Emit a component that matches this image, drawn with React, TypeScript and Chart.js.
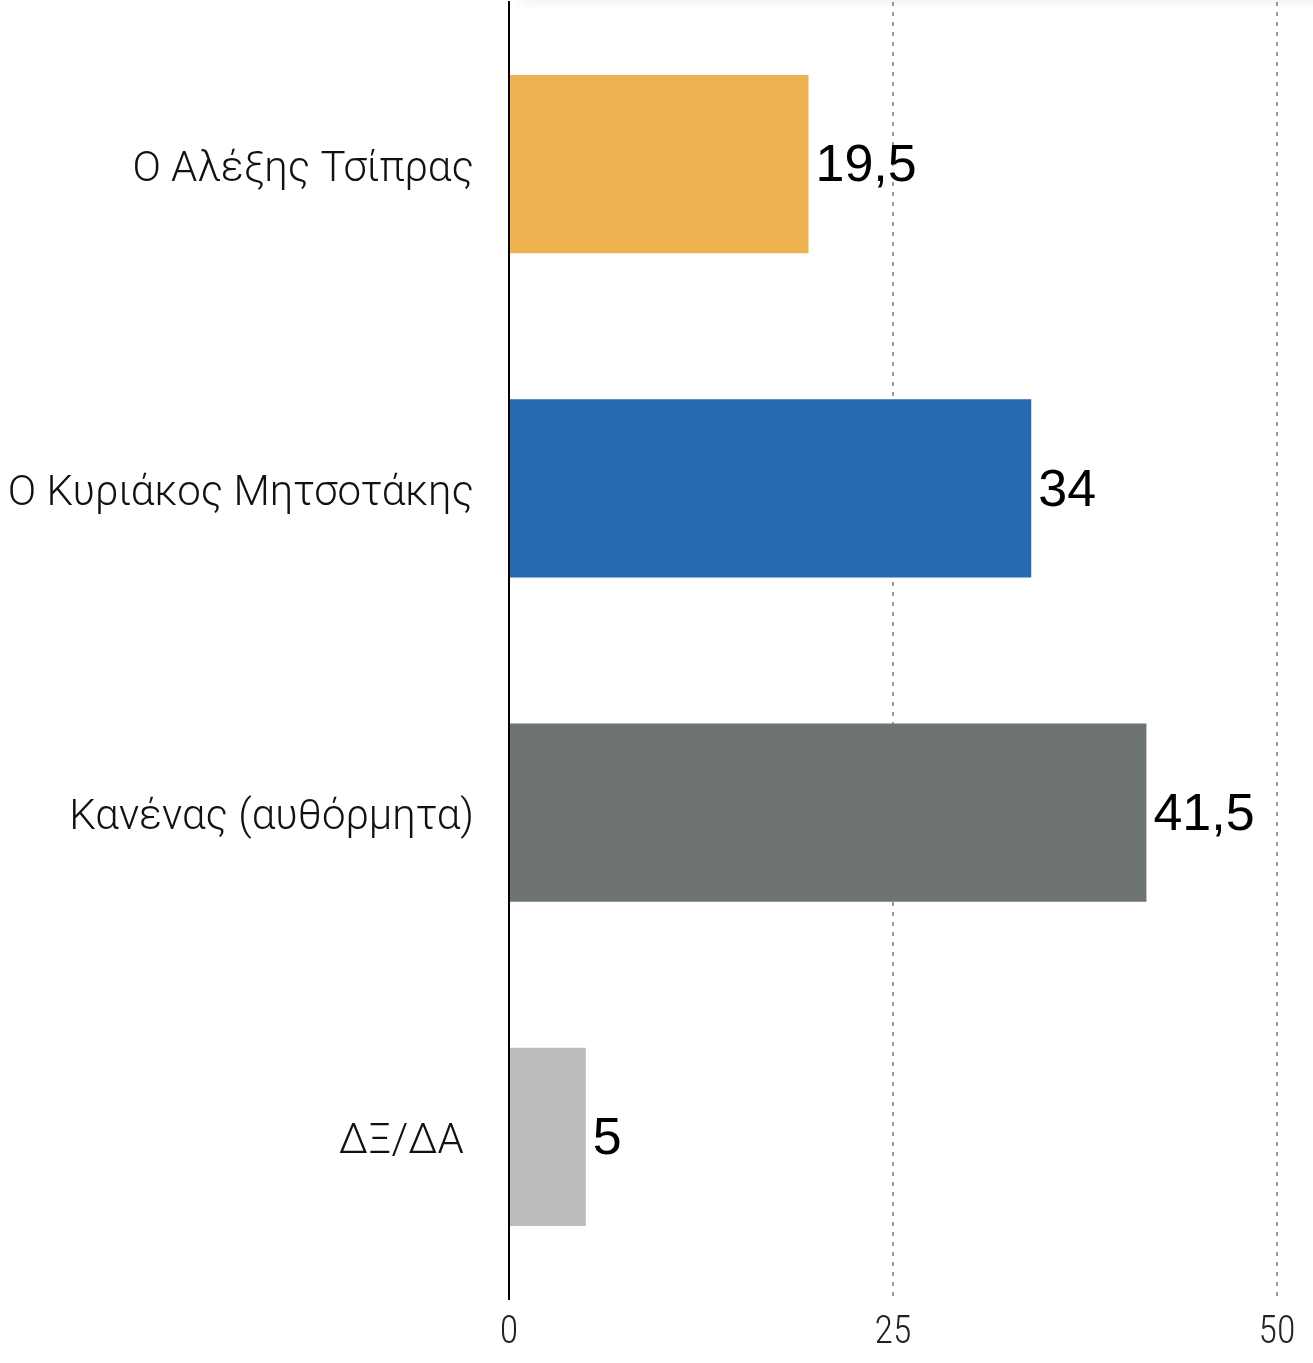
import React, { useEffect, useRef } from "react";
import { Chart, registerables } from "chart.js";

Chart.register(...registerables);

const categories = [
  "Ο Αλέξης Τσίπρας",
  "Ο Κυριάκος Μητσοτάκης",
  "Κανένας (αυθόρμητα)",
  "ΔΞ/ΔΑ ",
];
const values = [19.5, 34, 41.5, 5];
const barColors = ["#EFB250", "#2569B1", "#6E7472", "#BABDBB"];
const xTicks = [0, 25, 50];

const valueLabels = {
  id: "valueLabels",
  afterDatasetsDraw(chart: any) {
    const ctx = chart.ctx;
    const meta = chart.getDatasetMeta(0);
    ctx.save();
    ctx.font = '52px "Liberation Sans", Arial, sans-serif';
    ctx.fillStyle = "#000";
    ctx.textAlign = "left";
    ctx.textBaseline = "middle";
    meta.data.forEach((bar: any, i: number) => {
      const txt = String(values[i]).replace(".", ",");
      ctx.fillText(txt, bar.x + 7, bar.y + 3);
    });
    ctx.restore();
  },
};

export default function App() {
  const ref = useRef<HTMLCanvasElement | null>(null);

  useEffect(() => {
    document.body.style.margin = "0";
    const canvas = ref.current!;
    const chart = new Chart(canvas, {
      type: "bar",
      data: {
        labels: categories,
        datasets: [
          {
            data: values,
            backgroundColor: barColors,
            borderWidth: 0,
            categoryPercentage: 1,
            barPercentage: 0.55,
          },
        ],
      },
      options: {
        indexAxis: "y",
        responsive: false,
        animation: false,
        devicePixelRatio: 1,
        layout: { padding: { top: 2, right: 36, left: 0, bottom: 0 } },
        plugins: { legend: { display: false }, tooltip: { enabled: false } },
        scales: {
          x: {
            min: 0,
            max: 50,
            afterBuildTicks: (scale: any) => {
              scale.ticks = xTicks.map((v) => ({ value: v }));
            },
            afterFit: (scale: any) => {
              scale.height = 64;
              scale.paddingLeft = 0;
              scale.paddingRight = 0;
            },
            grid: {
              drawTicks: false,
              color: (c: any) => (c.tick && c.tick.value === 0 ? "rgba(0,0,0,0)" : "#9a9a9a"),
              lineWidth: 2,
            },
            border: { display: false, dash: [4, 6] },
            ticks: {
              padding: 12,
              color: "#222",
              font: {
                family: '"Roboto Condensed", "Liberation Sans Narrow", "DejaVu Sans Condensed", Roboto, sans-serif',
                weight: "300",
                size: 38,
              },
            },
          },
          y: {
            afterFit: (scale: any) => {
              scale.width = 509;
              scale.paddingTop = 0;
              scale.paddingBottom = 0;
            },
            grid: { display: false, drawTicks: false },
            border: { display: true, color: "#000", width: 2 },
            ticks: {
              padding: 35,
              labelOffset: 6,
              color: "#111",
              font: { family: "Roboto", weight: "300", size: 42 },
            },
          },
        },
      },
      plugins: [valueLabels],
    });
    return () => chart.destroy();
  }, []);

  return (
    <div style={{ position: "relative", width: 1313, height: 1363, overflow: "hidden", background: "#fff" }}>
      <div
        style={{
          position: "absolute",
          top: -20,
          left: 520,
          right: -40,
          height: 20,
          boxShadow: "0 2px 12px rgba(0,0,0,0.06)",
          background: "#fff",
        }}
      />
      <canvas ref={ref} width={1313} height={1363} style={{ display: "block", width: 1313, height: 1363 }} />
    </div>
  );
}
